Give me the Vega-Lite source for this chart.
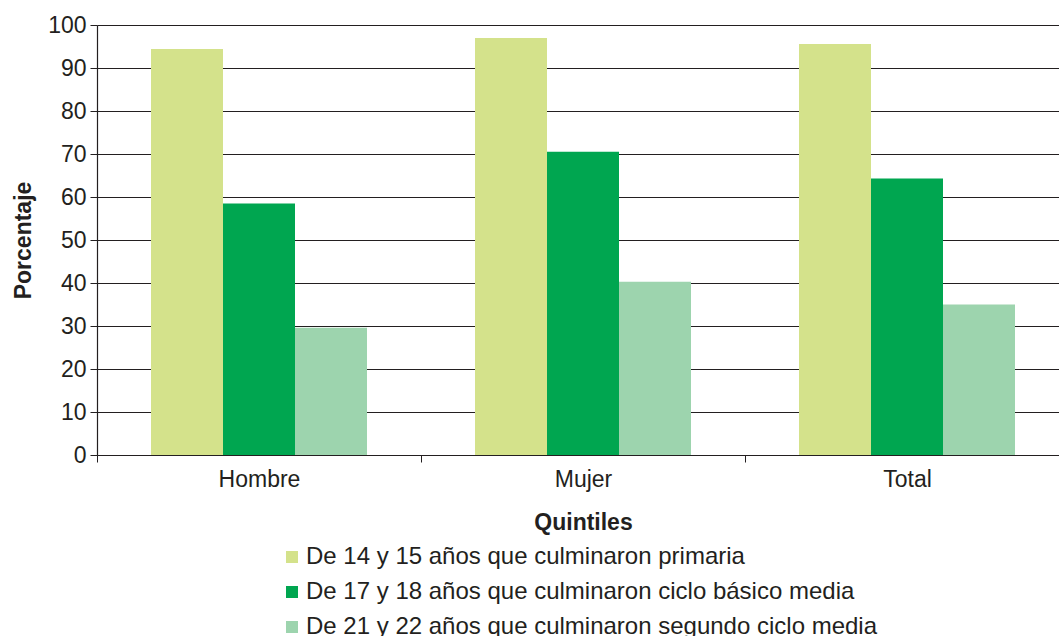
{
  "$schema": "https://vega.github.io/schema/vega-lite/v6.json",
  "autosize": "none",
  "width": 962,
  "height": 430,
  "padding": {"left": 97, "top": 25, "right": 0, "bottom": 181},
  "background": "white",
  "config": {
    "font": "Liberation Sans",
    "view": {"stroke": null},
    "axis": {"labelFont": "Liberation Sans", "titleFont": "Liberation Sans", "labelColor": "#231f20", "titleColor": "#231f20", "domainColor": "#231f20", "tickColor": "#231f20", "gridColor": "#231f20", "gridOpacity": 1, "gridWidth": 1.2, "domainWidth": 1.2, "tickWidth": 1}
  },
  "data": {
    "values": [
      {"grupo": "Hombre", "serie": "De 14 y 15 años que culminaron primaria", "valor": 94.4},
      {"grupo": "Hombre", "serie": "De 17 y 18 años que culminaron ciclo básico media", "valor": 58.5},
      {"grupo": "Hombre", "serie": "De 21 y 22 años que culminaron segundo ciclo media", "valor": 29.6},
      {"grupo": "Mujer", "serie": "De 14 y 15 años que culminaron primaria", "valor": 97.0},
      {"grupo": "Mujer", "serie": "De 17 y 18 años que culminaron ciclo básico media", "valor": 70.5},
      {"grupo": "Mujer", "serie": "De 21 y 22 años que culminaron segundo ciclo media", "valor": 40.3},
      {"grupo": "Total", "serie": "De 14 y 15 años que culminaron primaria", "valor": 95.6},
      {"grupo": "Total", "serie": "De 17 y 18 años que culminaron ciclo básico media", "valor": 64.3},
      {"grupo": "Total", "serie": "De 21 y 22 años que culminaron segundo ciclo media", "valor": 35.0}
    ]
  },
  "mark": {"type": "bar"},
  "encoding": {
    "x": {
      "field": "grupo", "type": "nominal", "sort": ["Hombre", "Mujer", "Total"],
      "scale": {"range": [0, 972], "paddingInner": 0, "paddingOuter": 0},
      "axis": {"title": "Quintiles", "titleFontSize": 23, "titleFontWeight": "bold", "titleY": 74, "titleBaseline": "alphabetic", "labelAngle": 0, "labelFontSize": 23, "labelPadding": 6, "tickSize": 7, "tickBand": "extent", "grid": false}
    },
    "xOffset": {
      "field": "serie", "type": "nominal",
      "scale": {"paddingInner": 0, "paddingOuter": 0.75}
    },
    "y": {
      "field": "valor", "type": "quantitative",
      "scale": {"domain": [0, 100], "nice": false},
      "axis": {"title": "Porcentaje", "titleFontSize": 23, "titleFontWeight": "bold", "titleX": -67, "titleBaseline": "alphabetic", "labelFontSize": 23, "labelPadding": 4, "tickSize": 7, "labelOverlap": false, "values": [0, 10, 20, 30, 40, 50, 60, 70, 80, 90, 100], "grid": true}
    },
    "color": {
      "field": "serie", "type": "nominal",
      "scale": {"range": ["#d4e28b", "#00a650", "#9dd4ae"]},
      "legend": {"title": null, "orient": "none", "legendX": 183, "legendY": 520, "symbolType": "square", "symbolSize": 144, "symbolStrokeWidth": 0, "labelFontSize": 24, "labelColor": "#231f20", "labelFont": "Liberation Sans", "labelOffset": 2, "rowPadding": 11, "padding": 0, "labelLimit": 800}
    }
  }
}
